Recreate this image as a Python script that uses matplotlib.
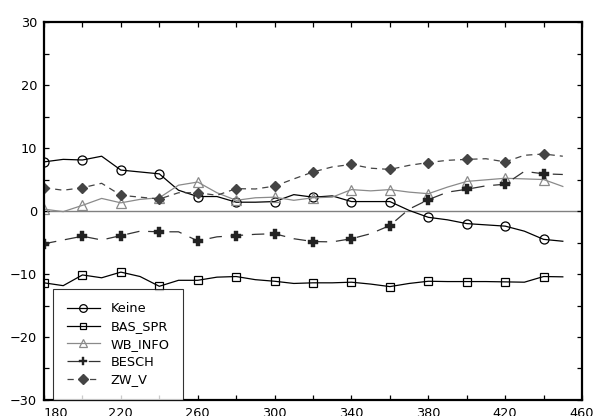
import numpy as np
import matplotlib
matplotlib.use("Agg")
import matplotlib.pyplot as plt
from matplotlib.legend_handler import HandlerLine2D

# x positions (every 10), markers every 20
x = [180, 190, 200, 210, 220, 230, 240, 250, 260, 270, 280, 290, 300, 310,
     320, 330, 340, 350, 360, 370, 380, 390, 400, 410, 420, 430, 440, 450]

keine = [7.8, 8.2, 8.1, 8.7, 6.5, 6.2, 5.9, 3.3, 2.3, 2.3, 1.4, 1.4, 1.5, 2.6,
         2.2, 2.4, 1.5, 1.5, 1.5, 0.1, -1.0, -1.4, -2.0, -2.2, -2.4, -3.2, -4.5, -4.8]
bas_spr = [-11.4, -11.85, -10.15, -10.6, -9.7, -10.4, -11.95, -11.0, -11.0, -10.5,
           -10.4, -10.9, -11.15, -11.5, -11.4, -11.4, -11.3, -11.6, -12.0, -11.5,
           -11.15, -11.2, -11.2, -11.2, -11.25, -11.3, -10.4, -10.45]
wb_info = [0.3, -0.1, 0.9, 2.0, 1.3, 1.85, 2.1, 4.1, 4.6, 2.9, 1.7, 2.1, 2.2, 1.7,
           2.1, 2.2, 3.4, 3.2, 3.4, 3.0, 2.75, 3.8, 4.7, 4.95, 5.2, 5.1, 5.0, 3.9]
besch = [-5.2, -4.6, -4.0, -4.6, -3.9, -3.2, -3.3, -3.3, -4.75, -4.1, -3.9, -3.7,
         -3.6, -4.4, -4.85, -4.9, -4.4, -3.6, -2.3, 0.3, 1.8, 3.0, 3.45, 4.0, 4.25,
         6.3, 5.9, 5.8]
zw_v = [3.7, 3.3, 3.7, 4.4, 2.5, 2.2, 1.9, 2.9, 2.9, 2.5, 3.55, 3.5, 3.95, 5.1,
        6.2, 7.0, 7.4, 6.8, 6.6, 7.25, 7.7, 8.05, 8.2, 8.3, 7.8, 8.85, 9.05, 8.7]

x_ticks = [180, 200, 220, 240, 260, 280, 300, 320, 340, 360, 380, 400, 420, 440, 460]
y_ticks = [-30, -25, -20, -15, -10, -5, 0, 5, 10, 15, 20, 25, 30]


class MarkerLeft(HandlerLine2D):
    # marker at the left end of the legend line
    def get_xdata(self, legend, xdescent, ydescent, width, height, fontsize):
        xdata = np.array([-xdescent, -xdescent + width])
        return xdata, np.array([-xdescent])


def main():
    plt.rcParams["font.family"] = "DejaVu Sans"
    plt.rcParams["font.size"] = 9.3

    fig = plt.figure(figsize=(5.93, 4.16), dpi=100)
    ax = fig.add_axes([0.0742, 0.0385, 0.9073, 0.9085])

    ax.axhline(0, color="#808080", lw=1.0, zorder=1)

    ax.plot(x, keine, color="black", lw=0.9, marker="o", markevery=2, ms=6.5,
            mfc="none", mec="black", mew=0.9, label="Keine")
    ax.plot(x, bas_spr, color="black", lw=0.9, marker="s", markevery=2, ms=5.5,
            mfc="none", mec="black", mew=0.9, label="BAS_SPR")
    ax.plot(x, wb_info, color="#8a8a8a", lw=0.9, marker="^", markevery=2, ms=6.5,
            mfc="none", mec="#8a8a8a", mew=0.9, label="WB_INFO")
    ax.plot(x, besch, color="#333333", lw=0.9, dashes=(10, 7), marker="P",
            markevery=2, ms=6.5, mfc="#222222", mec="#222222", mew=0.3, label="BESCH")
    ax.plot(x, zw_v, color="#444444", lw=0.9, dashes=(5, 4), marker="D",
            markevery=2, ms=5.5, mfc="#444444", mec="#444444", label="ZW_V")

    ax.set_xlim(180, 460)
    ax.set_ylim(-30, 30)
    ax.set_xticks(x_ticks)
    ax.set_xticklabels([str(t) if (t - 180) % 40 == 0 else "" for t in x_ticks])
    ax.set_yticks(y_ticks)
    ax.set_yticklabels([("\u2212" + str(-t) if t < 0 else str(t)) if t % 10 == 0 else ""
                        for t in y_ticks])
    ax.tick_params(direction="in", length=3.5, width=0.9, top=True, right=True,
                   labelsize=9.3, pad=5)
    ax.get_xticklabels()[0].set_horizontalalignment("left")
    for s in ax.spines.values():
        s.set_linewidth(1.6)

    leg = ax.legend(loc="lower left", bbox_to_anchor=(0.0167, 0.0), borderaxespad=0,
                    frameon=True, fancybox=False, edgecolor="black", fontsize=9.3,
                    handlelength=2.6, handletextpad=0.8, labelspacing=0.37,
                    borderpad=1.05, markerscale=0.85,
                    handler_map={plt.Line2D: MarkerLeft(numpoints=1)})
    leg.get_frame().set_linewidth(0.8)

    fig.savefig("out.png", dpi=100)


if __name__ == "__main__":
    main()
